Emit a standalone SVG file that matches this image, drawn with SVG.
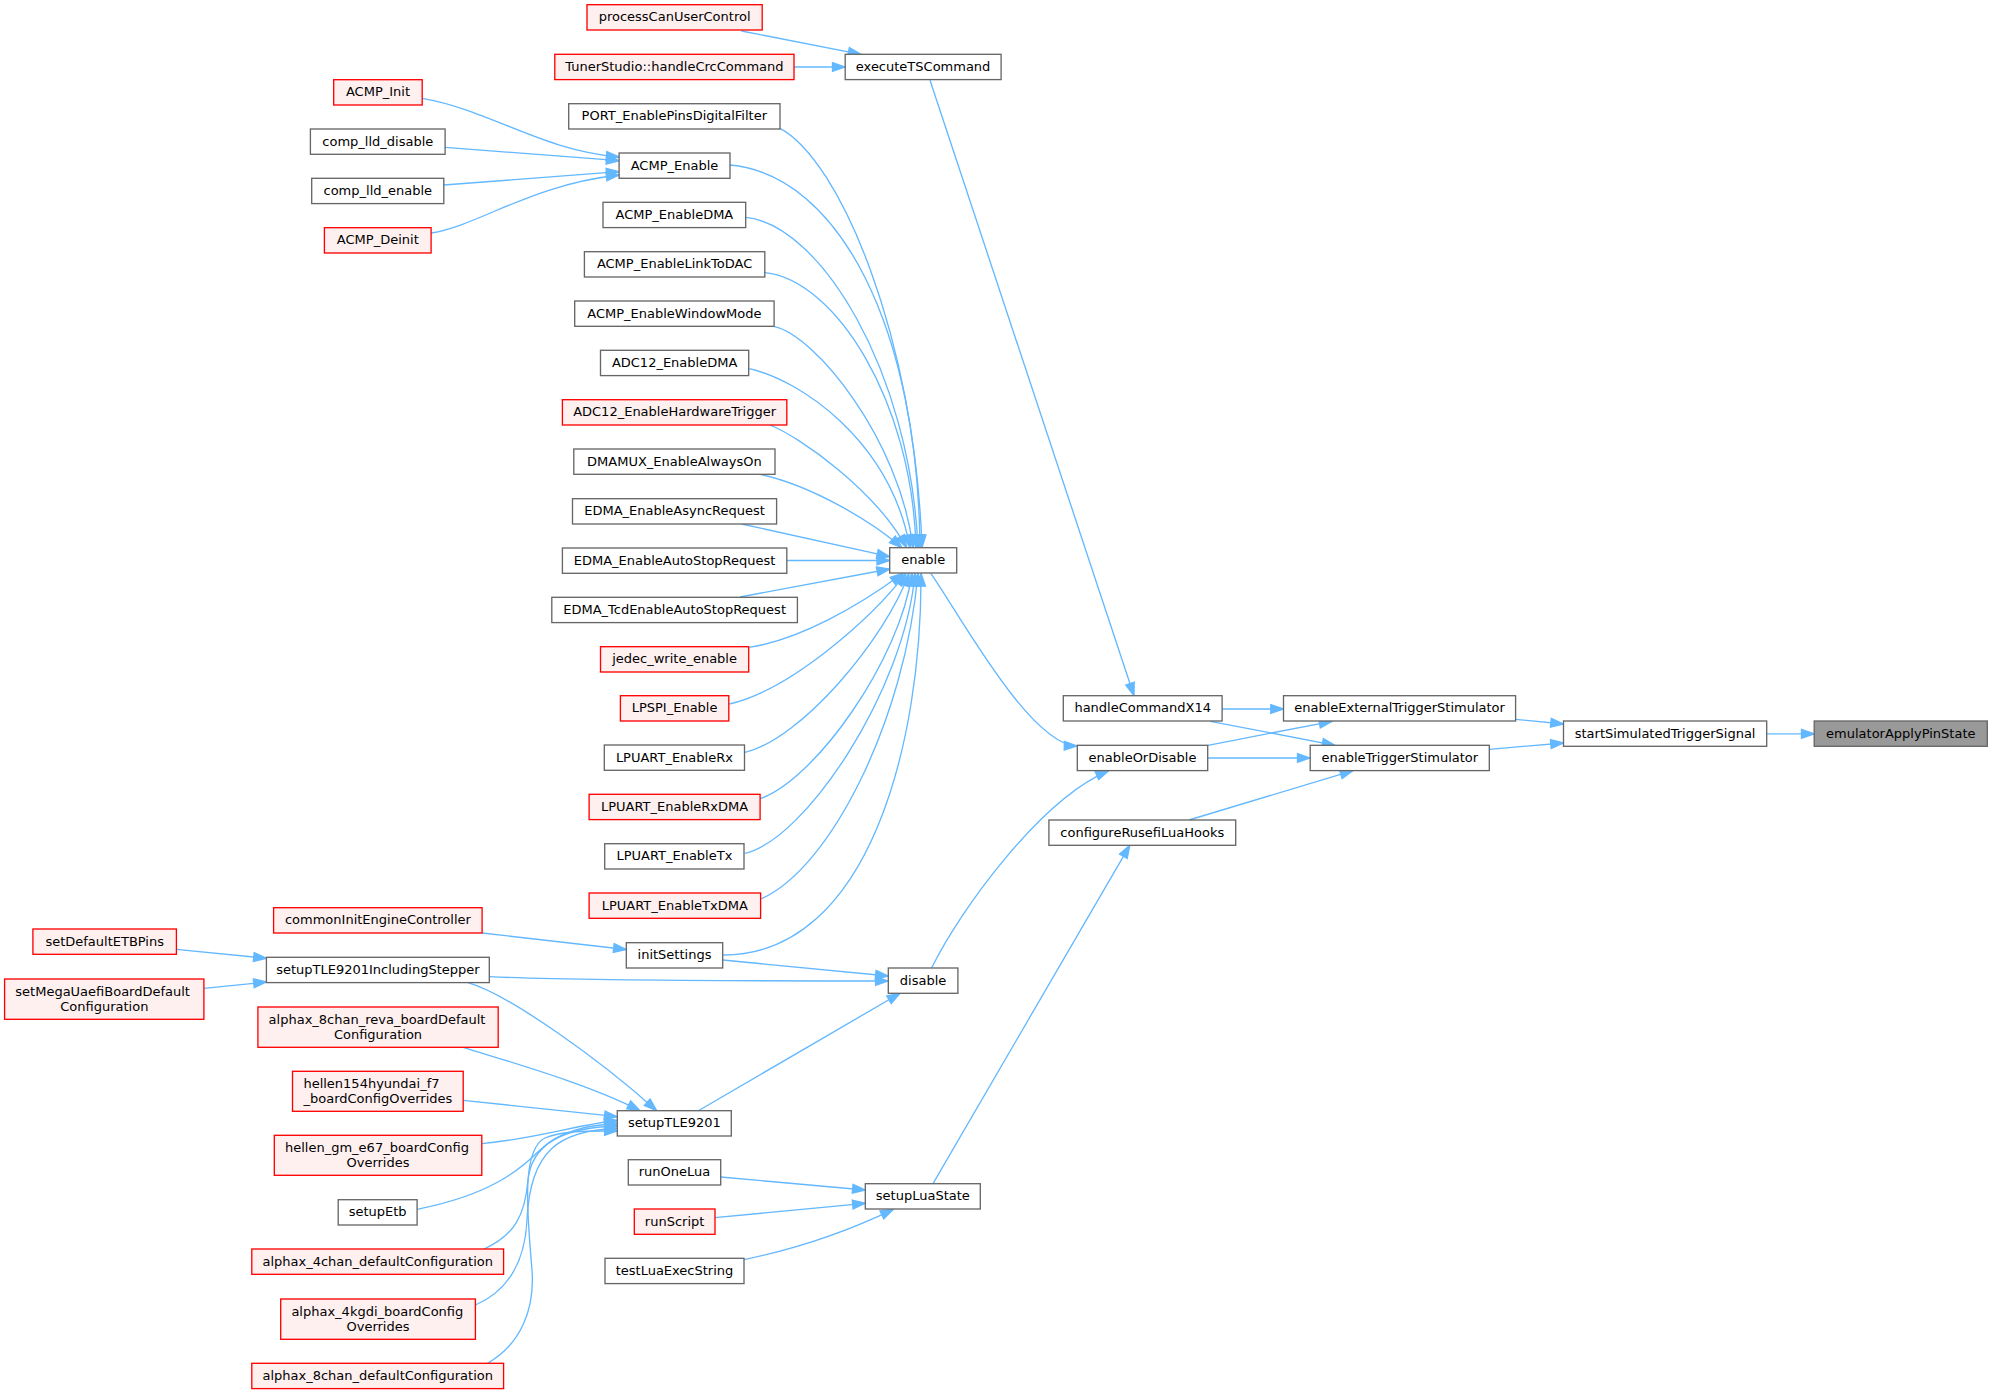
<svg xmlns="http://www.w3.org/2000/svg" width="1992" height="1395" viewBox="0 0 1992 1395">
<style>
rect{stroke-width:1.33}
.n rect{fill:#ffffff;stroke:#666666}
.r rect{fill:#fff0f0;stroke:#ff0000}
.h rect{fill:#999999;stroke:#666666}
text{font-family:"DejaVu Sans","Liberation Sans",sans-serif;font-size:13px;fill:#000000;text-anchor:middle}
text.s{text-anchor:start}
.e path{fill:none;stroke:#63b8ff;stroke-width:1.33;marker-end:url(#a)}
</style>
<defs>
<marker id="a" markerUnits="userSpaceOnUse" markerWidth="16" markerHeight="12" viewBox="0 0 16 12" refX="14.2" refY="6" orient="auto">
<path d="M1.5,1.6 L14.2,6 L1.5,10.4 z" fill="#63b8ff" stroke="#63b8ff" stroke-width="1.33"/>
</marker>
</defs>
<rect width="1992" height="1395" fill="#ffffff"/>
<g id="edges" class="e">
<path d="M1766.7,733.8 L1814.2,733.8"/>
<path d="M1515.6,719.3 L1563.5,724"/>
<path d="M1489.3,749.3 L1563.5,743"/>
<path d="M1222.1,709 L1283.5,709"/>
<path d="M1208,745.3 L1332,721.3"/>
<path d="M1210.3,721.3 L1335,745.3"/>
<path d="M1207.7,758 L1310.2,758"/>
<path d="M1189,820 L1353,770.7"/>
<path d="M930,80.3 L1134,695.7"/>
<path d="M741.5,31 L861,54.3"/>
<path d="M794,67 L845.2,67"/>
<path d="M930.8,573.3 C960,615 1030,745 1077,746"/>
<path d="M931.6,968 C960,910 1040,800 1108.6,770.7"/>
<path d="M933,1183.7 L1129.8,845.3"/>
<path d="M780,128.3 C840,160 915,338 922,547.7"/>
<path d="M730,165 C840,175 918,330 920,547.7"/>
<path d="M746,217.3 C820,225 910,370 918,547.7"/>
<path d="M765,272.7 C835,280 912,400 916,547.7"/>
<path d="M774.3,326.7 C815,335 900,440 913,547.7"/>
<path d="M749.3,368.7 C800,380 890,440 910,547.7"/>
<path d="M770,425 C800,437 875,490 906.7,547.7"/>
<path d="M760,474.3 C810,485 870,520 902,547.7"/>
<path d="M741.7,524 L889.7,556.7"/>
<path d="M786.8,560.5 L889.7,560.5"/>
<path d="M740,597 L889.7,569"/>
<path d="M749.3,647.3 C800,640 860,605 903,573.3"/>
<path d="M729.3,704 C790,690 870,620 906,573.3"/>
<path d="M745,752.3 C800,740 885,640 909,573.3"/>
<path d="M760,798.7 C815,780 900,660 912,573.3"/>
<path d="M745,853.3 C805,840 905,690 915,573.3"/>
<path d="M760,899.3 C830,870 905,720 918,573.3"/>
<path d="M723.3,955 C870,955 922,740 921,573.3"/>
<path d="M422.2,98.3 C490,110 540,150 619.1,157"/>
<path d="M445.1,147.3 L619.1,160.7"/>
<path d="M443.8,185 L619.1,171.7"/>
<path d="M431.1,233 C480,225 530,185 619.1,175"/>
<path d="M482.1,933 L626.3,949.5"/>
<path d="M176.4,949.3 L266.4,958.3"/>
<path d="M203.9,988.3 L266.4,982"/>
<path d="M489.3,976.7 C540,979 700,981 888.3,981"/>
<path d="M722.7,960 L888.3,976"/>
<path d="M698.3,1110.7 L900,993.3"/>
<path d="M468,982.7 C510,995 600,1060 656.7,1110.7"/>
<path d="M463.2,1047.3 C520,1065 590,1085 640,1110.7"/>
<path d="M463.2,1100.3 L617.3,1116.7"/>
<path d="M481.8,1143.7 C540,1138 580,1124 617.3,1120.5"/>
<path d="M417.1,1209.3 C490,1195 520,1170 540,1150 C560,1130 590,1125 617.3,1123.5"/>
<path d="M484,1249 C515,1235 525,1215 528,1180 C532,1140 570,1127 617.3,1126"/>
<path d="M475.4,1305 C510,1290 525,1260 527,1220 C530,1150 560,1130 617.3,1128.5"/>
<path d="M487.5,1363.3 C520,1345 535,1310 532,1270 C528,1220 520,1150 545,1138 C565,1130 590,1131 617.3,1131"/>
<path d="M720.7,1177 L865.3,1190"/>
<path d="M715,1217.7 L865.3,1203.3"/>
<path d="M744,1259.7 C790,1250 840,1235 893.3,1209.3"/>
</g>
<g id="node_processCanUserControl" class="r"><rect x="587" y="4.7" width="175.2" height="25.3"/><text x="674.6" y="21.4">processCanUserControl</text></g>
<g id="node_handleCrcCommand" class="r"><rect x="554.8" y="54.3" width="239.2" height="25.3"/><text x="674.4" y="71">TunerStudio::handleCrcCommand</text></g>
<g id="node_executeTSCommand" class="n"><rect x="845.2" y="54.3" width="155.9" height="25.3"/><text x="923.1" y="71">executeTSCommand</text></g>
<g id="node_ACMP_Init" class="r"><rect x="333.7" y="79.7" width="88.5" height="25.3"/><text x="378" y="96.4">ACMP_Init</text></g>
<g id="node_PORT_EnablePinsDigitalFilter" class="n"><rect x="568.7" y="103.7" width="211.3" height="25.3"/><text x="674.3" y="120.4">PORT_EnablePinsDigitalFilter</text></g>
<g id="node_comp_lld_disable" class="n"><rect x="310.4" y="129" width="134.7" height="25.3"/><text x="377.8" y="145.7">comp_lld_disable</text></g>
<g id="node_ACMP_Enable" class="n"><rect x="619.1" y="153" width="110.9" height="25.3"/><text x="674.5" y="169.7">ACMP_Enable</text></g>
<g id="node_comp_lld_enable" class="n"><rect x="311.7" y="178.3" width="132.1" height="25.3"/><text x="377.8" y="195">comp_lld_enable</text></g>
<g id="node_ACMP_EnableDMA" class="n"><rect x="603" y="202.3" width="142.7" height="25.3"/><text x="674.4" y="219">ACMP_EnableDMA</text></g>
<g id="node_ACMP_Deinit" class="r"><rect x="324.4" y="227.7" width="106.7" height="25.3"/><text x="377.8" y="244.4">ACMP_Deinit</text></g>
<g id="node_ACMP_EnableLinkToDAC" class="n"><rect x="584.4" y="251.7" width="180.4" height="25.3"/><text x="674.6" y="268.4">ACMP_EnableLinkToDAC</text></g>
<g id="node_ACMP_EnableWindowMode" class="n"><rect x="574.7" y="301" width="199.4" height="25.3"/><text x="674.4" y="317.7">ACMP_EnableWindowMode</text></g>
<g id="node_ADC12_EnableDMA" class="n"><rect x="600.5" y="350.3" width="148.2" height="25.3"/><text x="674.6" y="367">ADC12_EnableDMA</text></g>
<g id="node_ADC12_EnableHardwareTrigger" class="r"><rect x="562.4" y="399.7" width="224.4" height="25.3"/><text x="674.6" y="416.4">ADC12_EnableHardwareTrigger</text></g>
<g id="node_DMAMUX_EnableAlwaysOn" class="n"><rect x="573.8" y="449" width="201.2" height="25.3"/><text x="674.4" y="465.7">DMAMUX_EnableAlwaysOn</text></g>
<g id="node_EDMA_EnableAsyncRequest" class="n"><rect x="572.5" y="498.7" width="204.1" height="25.3"/><text x="674.6" y="515.4">EDMA_EnableAsyncRequest</text></g>
<g id="node_EDMA_EnableAutoStopRequest" class="n"><rect x="562.4" y="548" width="224.4" height="25.3"/><text x="674.6" y="564.7">EDMA_EnableAutoStopRequest</text></g>
<g id="node_EDMA_TcdEnableAutoStopRequest" class="n"><rect x="551.8" y="597.3" width="245.6" height="25.3"/><text x="674.6" y="614">EDMA_TcdEnableAutoStopRequest</text></g>
<g id="node_jedec_write_enable" class="r"><rect x="600.5" y="646.7" width="148.2" height="25.3"/><text x="674.6" y="663.4">jedec_write_enable</text></g>
<g id="node_LPSPI_Enable" class="r"><rect x="620.4" y="695.7" width="108.4" height="25.3"/><text x="674.6" y="712.4">LPSPI_Enable</text></g>
<g id="node_LPUART_EnableRx" class="n"><rect x="604.3" y="745" width="140.2" height="25.3"/><text x="674.4" y="761.7">LPUART_EnableRx</text></g>
<g id="node_LPUART_EnableRxDMA" class="r"><rect x="589.1" y="794.3" width="171" height="25.3"/><text x="674.6" y="811">LPUART_EnableRxDMA</text></g>
<g id="node_LPUART_EnableTx" class="n"><rect x="604.7" y="843.7" width="139.3" height="25.3"/><text x="674.4" y="860.4">LPUART_EnableTx</text></g>
<g id="node_LPUART_EnableTxDMA" class="r"><rect x="589.1" y="893" width="171.5" height="25.3"/><text x="674.8" y="909.7">LPUART_EnableTxDMA</text></g>
<g id="node_enable" class="n"><rect x="889.7" y="547.7" width="67" height="25.3"/><text x="923.2" y="564.4">enable</text></g>
<g id="node_handleCommandX14" class="n"><rect x="1063.3" y="695.7" width="158.8" height="25.3"/><text x="1142.7" y="712.4">handleCommandX14</text></g>
<g id="node_enableOrDisable" class="n"><rect x="1077.3" y="745.3" width="130.4" height="25.3"/><text x="1142.5" y="762">enableOrDisable</text></g>
<g id="node_configureRusefiLuaHooks" class="n"><rect x="1048.9" y="820" width="186.8" height="25.3"/><text x="1142.3" y="836.7">configureRusefiLuaHooks</text></g>
<g id="node_enableExternalTriggerStimulator" class="n"><rect x="1283.5" y="695.7" width="232.1" height="25.3"/><text x="1399.6" y="712.4">enableExternalTriggerStimulator</text></g>
<g id="node_enableTriggerStimulator" class="n"><rect x="1310.2" y="745.3" width="179.1" height="25.3"/><text x="1399.8" y="762">enableTriggerStimulator</text></g>
<g id="node_startSimulatedTriggerSignal" class="n"><rect x="1563.5" y="721" width="203.2" height="25.3"/><text x="1665.1" y="737.7">startSimulatedTriggerSignal</text></g>
<g id="node_emulatorApplyPinState" class="h"><rect x="1814.2" y="721" width="173.1" height="25.3"/><text x="1900.8" y="737.7">emulatorApplyPinState</text></g>
<g id="node_commonInitEngineController" class="r"><rect x="273.6" y="907.7" width="208.5" height="25.3"/><text x="377.9" y="924.4">commonInitEngineController</text></g>
<g id="node_setDefaultETBPins" class="r"><rect x="32.9" y="929" width="143.5" height="25.3"/><text x="104.7" y="945.7">setDefaultETBPins</text></g>
<g id="node_initSettings" class="n"><rect x="626.3" y="942.7" width="96.4" height="25.3"/><text x="674.5" y="959.4">initSettings</text></g>
<g id="node_setupTLE9201IncludingStepper" class="n"><rect x="266.4" y="957.3" width="222.9" height="25.3"/><text x="377.9" y="974">setupTLE9201IncludingStepper</text></g>
<g id="node_disable" class="n"><rect x="888.3" y="968" width="69.6" height="25.3"/><text x="923.1" y="984.7">disable</text></g>
<g id="node_setMegaUaefiBoardDefaultConfiguration" class="r"><rect x="4.6" y="979" width="199.3" height="40.3"/><text class="s" x="15.3" y="995.7">setMegaUaefiBoardDefault</text><text x="104.3" y="1011">Configuration</text></g>
<g id="node_alphax_8chan_reva_boardDefaultConfiguration" class="r"><rect x="257.9" y="1007" width="240.3" height="40.3"/><text class="s" x="268.6" y="1023.7">alphax_8chan_reva_boardDefault</text><text x="378" y="1039">Configuration</text></g>
<g id="node_hellen154hyundai_f7_boardConfigOverrides" class="r"><rect x="292.5" y="1071.3" width="170.7" height="40"/><text class="s" x="303.4" y="1088">hellen154hyundai_f7</text><text x="377.9" y="1103.3">_boardConfigOverrides</text></g>
<g id="node_setupTLE9201" class="n"><rect x="617.3" y="1110.7" width="114" height="25.3"/><text x="674.3" y="1127.4">setupTLE9201</text></g>
<g id="node_hellen_gm_e67_boardConfigOverrides" class="r"><rect x="274.3" y="1135.3" width="207.5" height="40"/><text class="s" x="285" y="1152">hellen_gm_e67_boardConfig</text><text x="378" y="1167.3">Overrides</text></g>
<g id="node_runOneLua" class="n"><rect x="628.3" y="1159.7" width="92.4" height="25.3"/><text x="674.5" y="1176.4">runOneLua</text></g>
<g id="node_setupLuaState" class="n"><rect x="865.3" y="1183.7" width="115" height="25.3"/><text x="922.8" y="1200.4">setupLuaState</text></g>
<g id="node_setupEtb" class="n"><rect x="338.2" y="1199.7" width="78.9" height="25.3"/><text x="377.6" y="1216.4">setupEtb</text></g>
<g id="node_runScript" class="r"><rect x="634.3" y="1209" width="80.7" height="25.3"/><text x="674.6" y="1225.7">runScript</text></g>
<g id="node_alphax_4chan_defaultConfiguration" class="r"><rect x="251.8" y="1249" width="251.8" height="25.3"/><text x="377.7" y="1265.7">alphax_4chan_defaultConfiguration</text></g>
<g id="node_testLuaExecString" class="n"><rect x="605" y="1258.3" width="139" height="25.3"/><text x="674.5" y="1275">testLuaExecString</text></g>
<g id="node_alphax_4kgdi_boardConfigOverrides" class="r"><rect x="280.7" y="1299" width="194.7" height="40.3"/><text class="s" x="291.4" y="1315.7">alphax_4kgdi_boardConfig</text><text x="378" y="1331">Overrides</text></g>
<g id="node_alphax_8chan_defaultConfiguration" class="r"><rect x="251.8" y="1363.3" width="251.8" height="25.3"/><text x="377.7" y="1380">alphax_8chan_defaultConfiguration</text></g>
</svg>
